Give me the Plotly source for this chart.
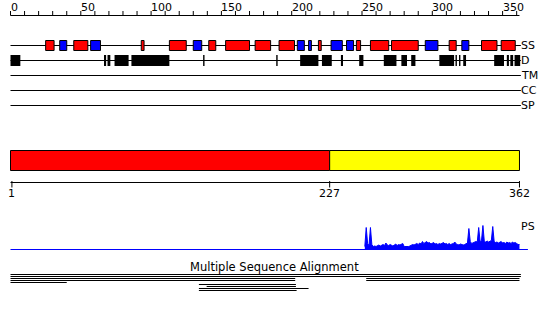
import plotly.graph_objects as go

# ---------------- data ----------------
seq_length = 362
top_ruler_ticks = list(range(0, 361, 10))
top_ruler_labels = [0, 50, 100, 150, 200, 250, 300, 350]

# secondary structure (SS): helices red, strands blue
ss_start = [25, 35, 45, 57, 93, 113, 130, 141, 153, 174, 191, 204, 212, 219, 228, 239, 246, 256, 271, 295, 312, 321, 335, 349]
ss_end   = [31, 40, 55, 64, 95, 125, 136, 146, 170, 185, 202, 209, 214, 221, 236, 244, 249, 269, 290, 304, 317, 326, 346, 359]
ss_type  = ["H", "E", "H", "E", "H", "H", "E", "H", "H", "H", "H", "E", "E", "H", "E", "E", "H", "H", "H", "E", "H", "E", "H", "H"]

# disorder (D) segments
dis_start = [0, 66.5, 69, 74, 86, 137, 189, 206, 221.5, 235, 248, 265.5, 278, 285, 305, 316.5, 319, 322, 344, 353, 355.5, 358.5]
dis_end   = [7, 68, 71, 84, 113, 138, 190, 219, 228.5, 236.5, 251, 274.5, 282, 288, 315.5, 317.5, 320, 324, 351, 354.5, 357.5, 362.5]

track_labels = ["SS", "D", "TM", "CC", "SP"]

# domains
dom_start = [0, 227]
dom_end = [227, 362]
dom_color = ["#FF0000", "#FFFF00"]
dom_tick_pos = [1, 227, 362]
dom_tick_labels = ["1", "227", "362"]

# PS profile (residues 252..362)
ps_res = list(range(252, 363))
ps_val = [3, 22, 6, 4, 22, 5, 3, 3.5, 3, 4,
          4.5, 3.5, 4, 5, 4, 6.5, 4.5, 4, 5, 4.5,
          3.5, 4.5, 5.5, 4, 5, 4.5, 5, 6, 3, 3,
          2.5, 3, 3.5, 4.5, 5, 4.5, 5.5, 6, 5, 6.5,
          5.5, 8, 6, 7, 8, 6.5, 7, 5.5, 6, 7,
          5.5, 6, 5, 6, 5.5, 6.5, 7, 5.5, 6, 5,
          6, 5, 5.5, 6, 7.5, 5.5, 5, 4.5, 5.5, 5,
          4.5, 5, 6, 6.5, 21, 8, 6, 6.5, 7, 8,
          7.5, 22, 8, 9, 24, 8, 7.5, 8.5, 7.5, 8,
          9, 23, 8, 7, 7.5, 6.5, 7, 8, 6.5, 7,
          6, 7.5, 6.5, 7, 6, 7.5, 6.5, 7, 6, 5, 5]

# multiple sequence alignment hits
msa_start = [0, 0, 0, 253, 0, 253, 0, 134, 139.5, 134, 134]
msa_end   = [363, 363, 202.5, 362, 202.5, 362, 40, 203, 203, 212, 203.5]
msa_row   = [0, 1, 2, 2, 3, 3, 4, 5, 6, 7, 8]

# ---------------- layout helpers ----------------
W, H = 550, 313
PX_PER_RES = 1.406
X0_PX = 10.5
XMIN = -X0_PX / PX_PER_RES
XMAX = XMIN + W / PX_PER_RES
FONT = dict(family="DejaVu Sans", size=11, color="black")

fig = go.Figure()
fig.add_trace(go.Scatter(x=[None], y=[None], xaxis="x", yaxis="y", showlegend=False))

shapes = []
annotations = []

def hline(x0, x1, y, color="black", width=1):
    shapes.append(dict(type="line", xref="x", yref="y", x0=x0, x1=x1, y0=y, y1=y,
                       line=dict(color=color, width=width)))

# top ruler
RULER_Y = 15.5
hline(0, seq_length, RULER_Y)
for t in top_ruler_ticks:
    shapes.append(dict(type="line", xref="x", yref="y", x0=t, x1=t, y0=11, y1=RULER_Y,
                       line=dict(color="black", width=1)))
for t in top_ruler_labels:
    annotations.append(dict(x=t, y=7, xref="x", yref="y", text=str(t), showarrow=False,
                            xanchor="left", yanchor="middle", xshift=-2, font=FONT))

# tracks
track_y = [45.5, 60.5, 75.5, 90.5, 105.5]
for lab, y in zip(track_labels, track_y):
    hline(0, seq_length + 1, y)
    annotations.append(dict(x=seq_length + 1, y=y, xref="x", yref="y", text=lab, showarrow=False,
                            xanchor="left", yanchor="middle", xshift=-2, font=FONT))

ss_colors = {"H": "#FF0000", "E": "#0000FF"}
for s, e, t in zip(ss_start, ss_end, ss_type):
    shapes.append(dict(type="rect", xref="x", yref="y", x0=s, x1=e, y0=40.5, y1=50.5,
                       fillcolor=ss_colors[t], line=dict(color="black", width=1)))

for s, e in zip(dis_start, dis_end):
    shapes.append(dict(type="rect", xref="x", yref="y", x0=s, x1=e, y0=55, y1=66,
                       fillcolor="black", line=dict(width=0)))

# domain bar
for s, e, c in zip(dom_start, dom_end, dom_color):
    shapes.append(dict(type="rect", xref="x", yref="y", x0=s, x1=e, y0=150.5, y1=170.5,
                       fillcolor=c, line=dict(color="black", width=1)))
hline(0, seq_length, 182.5)
for p, lab in zip(dom_tick_pos, dom_tick_labels):
    shapes.append(dict(type="line", xref="x", yref="y", x0=p, x1=p, y0=181, y1=187.5,
                       line=dict(color="black", width=1)))
    annotations.append(dict(x=p, y=193, xref="x", yref="y", text=lab, showarrow=False,
                            xanchor="center", yanchor="middle", font=FONT))

# PS profile
fig.add_trace(go.Scatter(x=ps_res, y=ps_val, xaxis="x", yaxis="y2", mode="lines",
                         fill="tozeroy", fillcolor="#0000FF",
                         line=dict(color="#0000FF", width=1), showlegend=False,
                         hoverinfo="skip"))
hline(0, seq_length + 6, 249.5, color="#0000FF")
annotations.append(dict(x=seq_length + 1, y=226, xref="x", yref="y", text="PS", showarrow=False,
                        xanchor="left", yanchor="middle", xshift=-2, font=FONT))

# MSA
annotations.append(dict(x=274.5 / W, y=266.5, xref="paper", yref="y", text="Multiple Sequence Alignment",
                        showarrow=False, xanchor="center", yanchor="middle",
                        font=dict(family="DejaVu Sans", size=11.5, color="black")))
for s, e, r in zip(msa_start, msa_end, msa_row):
    hline(s, e, 274.5 + 2 * r)

BASE = 249.5
fig.update_layout(
    width=W, height=H, margin=dict(l=0, r=0, t=0, b=0),
    paper_bgcolor="white", plot_bgcolor="white", showlegend=False,
    xaxis=dict(range=[XMIN, XMAX], visible=False, fixedrange=True),
    yaxis=dict(range=[H, 0], visible=False, fixedrange=True, domain=[0, 1]),
    yaxis2=dict(range=[0, 25], visible=False, fixedrange=True,
                domain=[(H - BASE) / H, (H - BASE + 25) / H], anchor="x"),
    shapes=shapes, annotations=annotations,
)

fig.write_html("out.html", config={"displayModeBar": False})
